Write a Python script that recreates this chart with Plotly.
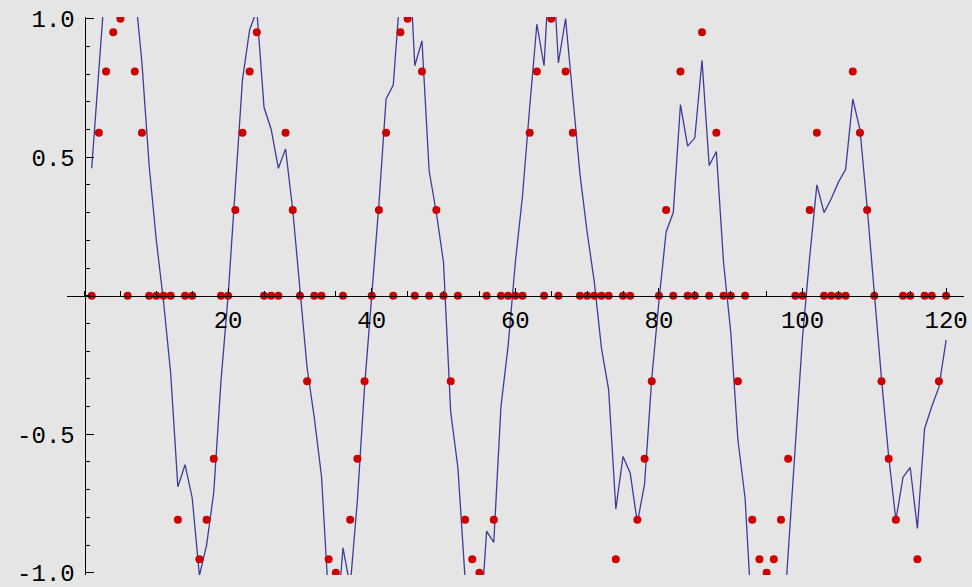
import plotly.graph_objects as go

# Sample index 1..120
x_vals = list(range(1, 121))

# Sparse samples of a period-20 sine (unsampled positions are zero)
sample_vals = [
    0, 0.588, 0.809, 0.951, 1.0, 0, 0.809, 0.588, 0, 0,
    0, 0, -0.809, 0, 0, -0.951, -0.809, -0.588, 0, 0,
    0.309, 0.588, 0.809, 0.951, 0, 0, 0, 0.588, 0.309, 0,
    -0.309, 0, 0, -0.951, -1.0, 0, -0.809, -0.588, -0.309, 0,
    0.309, 0.588, 0, 0.951, 1.0, 0, 0.809, 0, 0.309, 0,
    -0.309, 0, -0.809, -0.951, -1.0, 0, -0.809, 0, 0, 0,
    0, 0.588, 0.809, 0, 1.0, 0, 0.809, 0.588, 0, 0,
    0, 0, 0, -0.951, 0, 0, -0.809, -0.588, -0.309, 0,
    0.309, 0, 0.809, 0, 0, 0.951, 0, 0.588, 0, 0,
    -0.309, 0, -0.809, -0.951, -1.0, -0.951, -0.809, -0.588, 0, 0,
    0.309, 0.588, 0, 0, 0, 0, 0.809, 0.588, 0.309, 0,
    -0.309, -0.588, -0.809, 0, 0, -0.951, 0, 0, -0.309, 0,
]

# Reconstructed signal
recon_vals = [
    0.46, 0.84, 1.17, 1.25, 1.25, 1.20, 1.11, 0.84, 0.47, 0.20,
    -0.02, -0.28, -0.69, -0.61, -0.73, -1.01, -0.90, -0.71, -0.31, 0.00,
    0.39, 0.78, 0.96, 1.03, 0.68, 0.60, 0.46, 0.53, 0.31, 0.03,
    -0.26, -0.44, -0.65, -1.10, -1.23, -0.91, -1.05, -0.74, -0.33, 0.00,
    0.33, 0.71, 0.76, 1.11, 1.35, 0.83, 0.92, 0.45, 0.30, 0.12,
    -0.42, -0.62, -1.02, -1.20, -1.24, -0.85, -0.89, -0.40, -0.18, 0.12,
    0.36, 0.68, 0.98, 0.83, 1.30, 0.84, 1.00, 0.72, 0.44, 0.23,
    0.05, -0.19, -0.34, -0.77, -0.58, -0.64, -0.82, -0.68, -0.30, -0.02,
    0.23, 0.30, 0.69, 0.54, 0.57, 0.85, 0.47, 0.52, 0.12, -0.13,
    -0.52, -0.73, -1.19, -1.30, -1.40, -1.35, -1.33, -0.93, -0.53, -0.15,
    0.14, 0.40, 0.30, 0.35, 0.41, 0.455, 0.71, 0.60, 0.32, 0.00,
    -0.30, -0.58, -0.81, -0.655, -0.62, -0.84, -0.48, -0.40, -0.33, -0.16,
]

x_tick_vals = [20, 40, 60, 80, 100, 120]
x_tick_text = ["20", "40", "60", "80", "100", "120"]
y_tick_vals = [-1.0, -0.5, 0.5, 1.0]
y_tick_text = ["-1.0", "-0.5", "0.5", "1.0"]

X_RANGE = [-2.44, 122.49]
Y_RANGE = [-1.008, 1.006]

BG = "#e5e5e5"
FONT = dict(family="Liberation Mono, DejaVu Sans Mono, monospace", size=24, color="black")

fig = go.Figure()
fig.add_trace(go.Scatter(
    x=x_vals, y=recon_vals, mode="lines",
    line=dict(color="#3d3d99", width=1.3),
    showlegend=False, hoverinfo="skip",
))
fig.add_trace(go.Scatter(
    x=x_vals, y=sample_vals, mode="markers",
    marker=dict(color="#cc0000", size=8, line=dict(width=0)),
    showlegend=False, hoverinfo="skip",
))

x_pos = (0 - Y_RANGE[0]) / (Y_RANGE[1] - Y_RANGE[0])
y_pos = (0 - X_RANGE[0]) / (X_RANGE[1] - X_RANGE[0])

fig.update_layout(
    width=972, height=587,
    margin=dict(l=67, r=8, t=17, b=12),
    paper_bgcolor=BG, plot_bgcolor=BG,
    font=FONT,
    xaxis=dict(
        range=X_RANGE, anchor="free", position=x_pos, automargin=False,
        showgrid=False, zeroline=False,
        showline=True, linecolor="black", linewidth=1,
        tickmode="array", tickvals=x_tick_vals, ticktext=x_tick_text,
        ticks="inside", ticklen=8, tickwidth=1, tickcolor="black",
        ticklabelstandoff=2, ticklabeloverflow="allow",
        minor=dict(dtick=5, tick0=0, ticks="inside", ticklen=4.5,
                   tickwidth=1, tickcolor="black", showgrid=False),
        tickfont=FONT,
    ),
    yaxis=dict(
        range=Y_RANGE, anchor="free", position=y_pos, automargin=False,
        showgrid=False, zeroline=False,
        showline=True, linecolor="black", linewidth=1,
        tickmode="array", tickvals=y_tick_vals, ticktext=y_tick_text,
        ticks="inside", ticklen=8, tickwidth=1, tickcolor="black",
        ticklabelstandoff=5, ticklabeloverflow="allow",
        minor=dict(dtick=0.1, tick0=0, ticks="inside", ticklen=4.5,
                   tickwidth=1, tickcolor="black", showgrid=False),
        tickfont=FONT,
    ),
)

fig.write_html("out.html")
